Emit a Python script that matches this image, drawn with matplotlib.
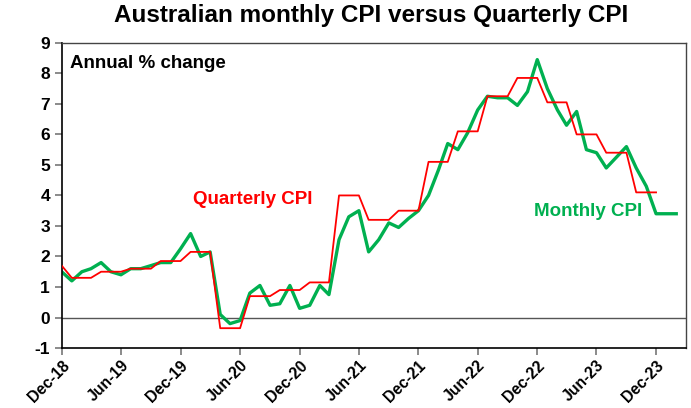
import numpy as np
import pandas as pd
import matplotlib
matplotlib.use("Agg")
import matplotlib.pyplot as plt
import matplotlib.dates as mdates

plt.rcParams['font.family'] = ['Liberation Sans', 'DejaVu Sans']
plt.rcParams['font.weight'] = 'bold'
plt.rcParams['axes.unicode_minus'] = False

# monthly CPI indicator, Dec-18 .. Feb-24 (annual % change)
monthly_cpi = [1.5, 1.2, 1.5, 1.6, 1.8, 1.5, 1.4, 1.6, 1.6, 1.7, 1.8, 1.8,
               2.25, 2.75, 2.0, 2.15, 0.1, -0.2, -0.1, 0.8, 1.05, 0.4,
               0.45, 1.05, 0.3, 0.4, 1.05, 0.75, 2.55, 3.3, 3.5, 2.15,
               2.55, 3.1, 2.95, 3.25, 3.5, 4.0, 4.85, 5.7, 5.5, 6.05,
               6.8, 7.25, 7.2, 7.2, 6.95, 7.4, 8.45, 7.5, 6.8, 6.3,
               6.75, 5.5, 5.4, 4.9, 5.25, 5.6, 4.9, 4.3, 3.4, 3.4, 3.4]

# quarterly CPI, Dec-18 then Mar-19 .. Dec-23
quarterly_first = 1.7
quarterly_cpi = [1.3, 1.5, 1.6, 1.85, 2.15, -0.35, 0.7, 0.9, 1.15, 4.0,
                 3.2, 3.5, 5.1, 6.1, 7.25, 7.85, 7.05, 6.0, 5.4, 4.1]

months = pd.date_range('2018-12-01', periods=len(monthly_cpi), freq='MS')
q_vals = np.concatenate([[quarterly_first], np.repeat(quarterly_cpi, 3)])
q_months = months[:len(q_vals)]

fig = plt.figure(figsize=(6.91, 4.08), dpi=100)
ax = fig.add_axes([0.0893, 0.147, 0.903, 0.748])

ax.axhline(0, color='#555555', lw=1.0, zorder=1)
ax.plot(months, monthly_cpi, color='#00B050', lw=2.4, zorder=2)
ax.plot(q_months, q_vals, color='#FF0000', lw=1.3, zorder=3)

ax.set_ylim(-1, 9)
ax.set_yticks(range(-1, 10))
ax.set_xlim(pd.Timestamp('2018-12-01'), pd.Timestamp('2024-03-01'))
ticks = pd.date_range('2018-12-01', '2023-12-01', freq='6MS')
ax.set_xticks(ticks)
ax.xaxis.set_major_formatter(mdates.DateFormatter('%b-%y'))
ax.tick_params(axis='both', color='#777777', length=5, width=1.2)
ax.tick_params(axis='y', labelsize=12.5)
ax.tick_params(axis='x', labelsize=11.3, pad=2)
for lab in ax.get_xticklabels():
    lab.set_rotation(45)
    lab.set_ha('right')
    lab.set_rotation_mode('anchor')

for s in ['left', 'bottom']:
    ax.spines[s].set_color('black')
    ax.spines[s].set_linewidth(1.2)
for s in ['top', 'right']:
    ax.spines[s].set_color('#444444')
    ax.spines[s].set_linewidth(1.0)

ax.text(0.014, 0.96, 'Annual % change', transform=ax.transAxes,
        fontsize=13.5, fontweight='bold', va='top', ha='left')
ax.text(pd.Timestamp('2020-07-10'), 3.86, 'Quarterly CPI', color='#FF0000',
        fontsize=13.5, fontweight='bold', va='center', ha='center')
ax.text(pd.Timestamp('2023-05-07'), 3.47, 'Monthly CPI', color='#00B050',
        fontsize=13.5, fontweight='bold', va='center', ha='center')

fig.suptitle('Australian monthly CPI versus Quarterly CPI', x=0.5377, y=0.99,
             fontsize=17.5, fontweight='bold', va='top')

fig.savefig('out.png', dpi=100)
